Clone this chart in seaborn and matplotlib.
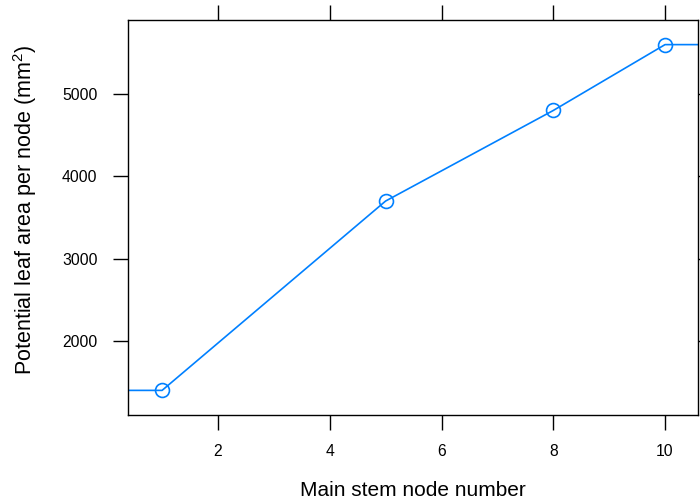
import matplotlib
matplotlib.use("Agg")
import matplotlib.pyplot as plt
import seaborn as sns
import pandas as pd

# Data
nodes = [1, 5, 8, 10]
leaf_area = [1400, 3700, 4800, 5600]
x_ticks = [2, 4, 6, 8, 10]
y_ticks = [2000, 3000, 4000, 5000]

sns.set_style("white")
plt.rcParams['font.family'] = ['Liberation Sans', 'DejaVu Sans']
plt.rcParams['text.color'] = 'black'
plt.rcParams['axes.labelcolor'] = 'black'
plt.rcParams['mathtext.fontset'] = 'custom'
plt.rcParams['mathtext.rm'] = 'Liberation Sans'

blue = "#0080ff"
fig = plt.figure(figsize=(7.0, 5.04), dpi=100)
ax = fig.add_axes([128/700, 1 - 415/504, (698-128)/700, (415-20)/504])

df = pd.DataFrame({"node": nodes, "area": leaf_area})
# line continues flat beyond the first and last points (clipped by the panel)
ext = pd.DataFrame({"node": [nodes[0] - 5] + nodes + [nodes[-1] + 5],
                    "area": [leaf_area[0]] + leaf_area + [leaf_area[-1]]})
sns.lineplot(data=ext, x="node", y="area", ax=ax, color=blue, linewidth=1.2,
             sort=False, estimator=None)
sns.lineplot(data=df, x="node", y="area", ax=ax, color=blue, linewidth=0,
             marker="o", markersize=10, markerfacecolor="none",
             markeredgecolor=blue, markeredgewidth=1.2, estimator=None)

ax.set_xlim(0.39, 10.59)
ax.set_ylim(1101, 5899)
ax.set_xticks(x_ticks)
ax.set_yticks(y_ticks)

for s in ax.spines.values():
    s.set_visible(True)
    s.set_color("black")
    s.set_linewidth(1.0)

ax.tick_params(axis="both", which="both", direction="out", length=11,
               width=1.0, color="black", labelsize=11.3, labelcolor="black",
               pad=10)
ax.tick_params(axis="x", top=True, bottom=True, labeltop=False)
ax.tick_params(axis="y", left=True, right=True, labelright=False, pad=11)

ax.set_xlabel("Main stem node number", fontsize=15, color="black")
ax.set_ylabel("Potential leaf area per node (mm$\\mathregular{^2}$)",
              fontsize=15.5, color="black")
ax.xaxis.label.set_va("center")
ax.yaxis.label.set_va("center")
ax.xaxis.set_label_coords((413 - 128) / 570, (415 - 491) / 395)
ax.yaxis.set_label_coords((25 - 128) / 570, (415 - 210) / 395)
ax.grid(False)

fig.savefig("out.png", dpi=100)
